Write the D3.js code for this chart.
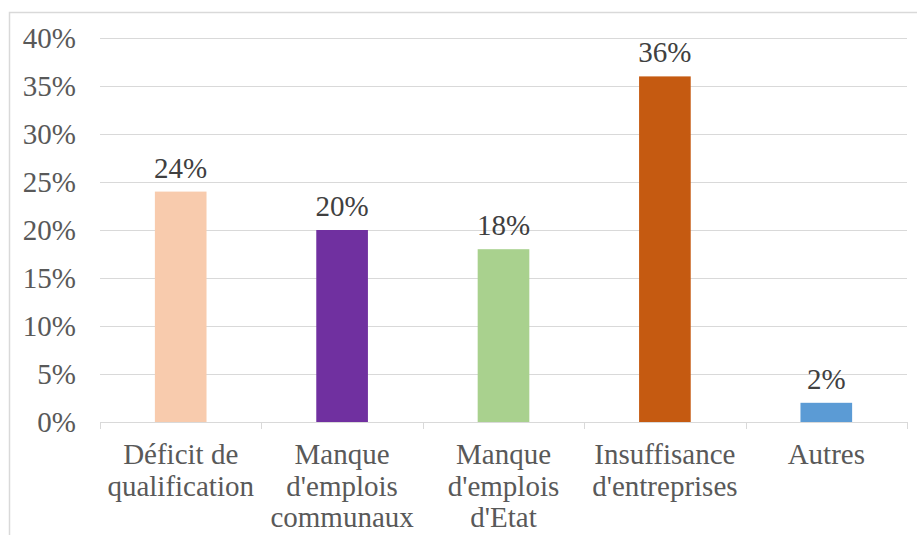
<!DOCTYPE html>
<html>
<head>
<meta charset="utf-8">
<script src="https://cdnjs.cloudflare.com/ajax/libs/d3/7.8.5/d3.min.js"></script>
</head>
<body style="margin:0">
<div id="chart"></div>
<script>
// data
var categories = [["Déficit de", "qualification"], ["Manque", "d'emplois", "communaux"], ["Manque", "d'emplois", "d'Etat"], ["Insuffisance", "d'entreprises"], ["Autres"]];
var values = [24, 20, 18, 36, 2];
var colors = ["#F8CBAD", "#7030A0", "#A9D18E", "#C55A11", "#5B9BD5"];
var yTicks = [0, 5, 10, 15, 20, 25, 30, 35, 40];

var width = 917, height = 535;
var font = "Liberation Serif";
var fontSize = 29;

var svg = d3.select("#chart").append("svg")
  .attr("width", width)
  .attr("height", height);

// chart frame
svg.append("rect")
  .attr("x", 9.5).attr("y", 12.5)
  .attr("width", 940).attr("height", 560)
  .attr("fill", "none")
  .attr("stroke", "#d9d9d9")
  .attr("stroke-width", 1.5);

var x = d3.scaleBand().domain(d3.range(values.length)).range([100, 907]).padding(0);
var y = d3.scaleLinear().domain([0, 40]).range([422, 38]);

// gridlines
svg.append("g").selectAll("line")
  .data(yTicks.filter(function (d) { return d > 0; }))
  .enter().append("line")
  .attr("x1", 100).attr("x2", 907)
  .attr("y1", function (d) { return Math.round(y(d)) + 0.5; })
  .attr("y2", function (d) { return Math.round(y(d)) + 0.5; })
  .attr("stroke", "#d9d9d9");

// place text without text-anchor: measure then shift
function anchor(sel, pos) {
  sel.each(function () {
    var w = this.getComputedTextLength();
    var x0 = +this.getAttribute("x");
    this.setAttribute("x", pos === "end" ? x0 - w : x0 - w / 2);
  });
}

// y labels
svg.selectAll("text.ylab")
  .data(yTicks)
  .enter().append("text")
  .attr("class", "ylab")
  .attr("x", 76)
  .attr("y", function (d) { return y(d) + 10; })
  .attr("font-size", fontSize)
  .attr("fill", "#595959")
  .style("font-family", font)
  .text(function (d) { return d + "%"; })
  .call(anchor, "end");

// bars
var bw = x.bandwidth() * 0.32;
svg.append("g").selectAll("rect")
  .data(values)
  .enter().append("rect")
  .attr("x", function (d, i) { return x(i) + x.bandwidth() / 2 - bw / 2; })
  .attr("y", function (d) { return y(d); })
  .attr("width", bw)
  .attr("height", function (d) { return y(0) - y(d); })
  .attr("fill", function (d, i) { return colors[i]; });

// value labels
svg.selectAll("text.val")
  .data(values)
  .enter().append("text")
  .attr("class", "val")
  .attr("x", function (d, i) { return x(i) + x.bandwidth() / 2; })
  .attr("y", function (d) { return y(d) - 14; })
  .attr("font-size", fontSize)
  .attr("fill", "#404040")
  .style("font-family", font)
  .text(function (d) { return d + "%"; })
  .call(anchor, "middle");

// x axis line and ticks
svg.append("line")
  .attr("x1", 100).attr("x2", 907)
  .attr("y1", 422.5).attr("y2", 422.5)
  .attr("stroke", "#d9d9d9");

svg.append("g").selectAll("line")
  .data(d3.range(values.length + 1))
  .enter().append("line")
  .attr("x1", function (d) { return Math.round(d < values.length ? x(d) : x(d - 1) + x.bandwidth()) + 0.5; })
  .attr("x2", function (d) { return Math.round(d < values.length ? x(d) : x(d - 1) + x.bandwidth()) + 0.5; })
  .attr("y1", 422).attr("y2", 429)
  .attr("stroke", "#d9d9d9");

// category labels, one text per line
var catLines = [];
categories.forEach(function (lines, i) {
  lines.forEach(function (t, j) { catLines.push({ i: i, j: j, t: t }); });
});

svg.selectAll("text.cat")
  .data(catLines)
  .enter().append("text")
  .attr("class", "cat")
  .attr("x", function (d) { return x(d.i) + x.bandwidth() / 2; })
  .attr("y", function (d) { return 464 + d.j * 31.5; })
  .attr("font-size", fontSize)
  .attr("fill", "#595959")
  .style("font-family", font)
  .text(function (d) { return d.t; })
  .call(anchor, "middle");
</script>
</body>
</html>
